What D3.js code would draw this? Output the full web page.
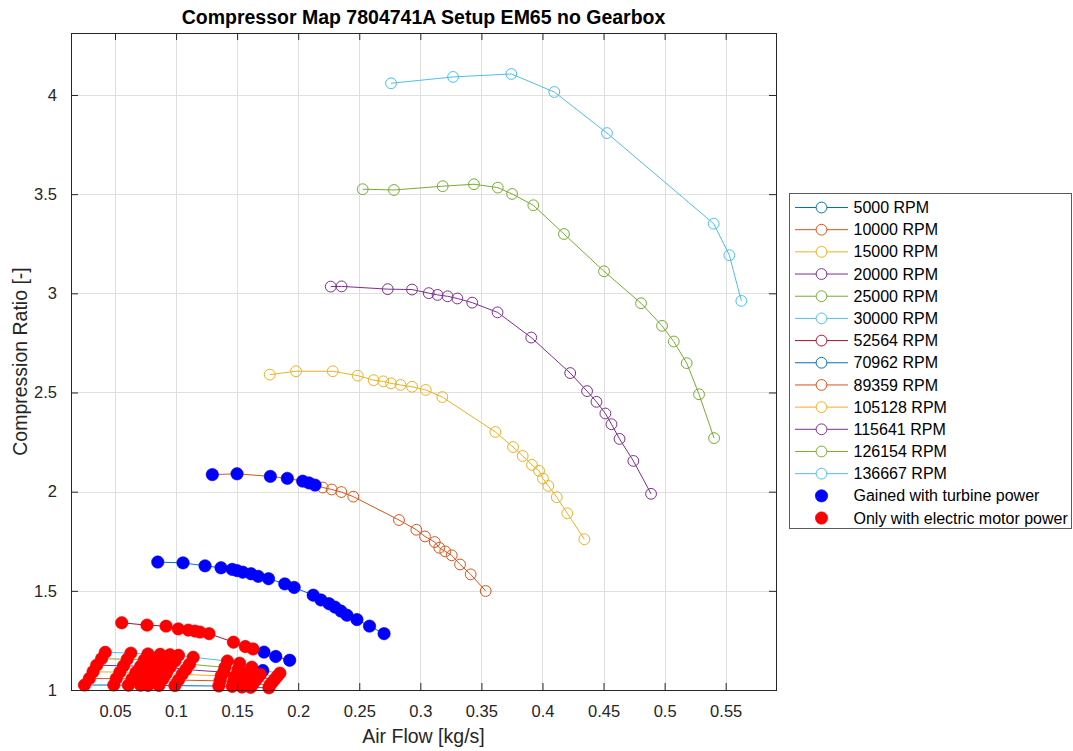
<!DOCTYPE html>
<html>
<head>
<meta charset="utf-8">
<script src="https://cdn.jsdelivr.net/npm/d3@7"></script>
<style>
  body { margin: 0; background: #ffffff; }
  svg { display: block; font-family: "Liberation Sans", Arial, Helvetica, sans-serif; }
</style>
</head>
<body>
<svg id="chart" width="1073" height="751"></svg>
<script>
// ---- speed lines (legend labels) ----
const rpmLabels = ["5000", "10000", "15000", "20000", "25000", "30000",
                   "52564", "70962", "89359", "105128", "115641", "126154", "136667"];

// ---- measured points per speed line: air flow [kg/s] and compression ratio [-] ----
const flow5000   = [0.025, 0.049, 0.061, 0.071, 0.077, 0.086, 0.099, 0.135, 0.146, 0.154, 0.161, 0.176];
const ratio5000  = [1.025, 1.025, 1.024, 1.024, 1.023, 1.023, 1.022, 1.020, 1.018, 1.015, 1.013, 1.011];
const flow10000  = [0.029, 0.051, 0.064, 0.074, 0.081, 0.089, 0.102, 0.136, 0.147, 0.155, 0.163, 0.177];
const ratio10000 = [1.058, 1.057, 1.056, 1.055, 1.054, 1.053, 1.050, 1.046, 1.042, 1.036, 1.031, 1.026];
const flow15000  = [0.032, 0.054, 0.067, 0.077, 0.084, 0.092, 0.105, 0.137, 0.148, 0.157, 0.165, 0.179];
const ratio15000 = [1.092, 1.090, 1.088, 1.087, 1.085, 1.083, 1.079, 1.071, 1.065, 1.056, 1.048, 1.040];
const flow20000  = [0.035, 0.057, 0.071, 0.080, 0.088, 0.095, 0.108, 0.139, 0.150, 0.159, 0.167, 0.181];
const ratio20000 = [1.125, 1.122, 1.120, 1.118, 1.116, 1.114, 1.103, 1.090, 1.084, 1.073, 1.063, 1.055];
const flow25000  = [0.039, 0.060, 0.074, 0.084, 0.091, 0.099, 0.111, 0.140, 0.151, 0.160, 0.169, 0.183];
const ratio25000 = [1.158, 1.155, 1.152, 1.150, 1.147, 1.145, 1.130, 1.114, 1.106, 1.092, 1.079, 1.070];
const flow30000  = [0.042, 0.063, 0.077, 0.087, 0.095, 0.102, 0.114, 0.142, 0.152, 0.162, 0.171, 0.185];
const ratio30000 = [1.190, 1.186, 1.182, 1.180, 1.178, 1.175, 1.165, 1.146, 1.135, 1.115, 1.098, 1.085];

const flow52564  = [0.0555, 0.0762, 0.0918, 0.1018, 0.110, 0.1155, 0.1196, 0.127, 0.147, 0.1567, 0.163, 0.172, 0.1816, 0.193];
const ratio52564 = [1.339, 1.327, 1.322, 1.308, 1.302, 1.297, 1.292, 1.284, 1.241, 1.219, 1.207, 1.191, 1.169, 1.150];

const flow70962  = [0.085, 0.1057, 0.1237, 0.1368, 0.146, 0.1499, 0.1546, 0.1614, 0.1673, 0.1757, 0.189,
                    0.1967, 0.2123, 0.2186, 0.2252, 0.2301, 0.235, 0.2399, 0.2481, 0.2584, 0.2703];
const ratio70962 = [1.645, 1.641, 1.626, 1.616, 1.608, 1.602, 1.594, 1.586, 1.573, 1.561, 1.535,
                    1.517, 1.478, 1.454, 1.435, 1.418, 1.398, 1.377, 1.355, 1.322, 1.284];

const flow89359  = [0.1297, 0.1499, 0.1772, 0.1911, 0.2037, 0.2088, 0.2138, 0.2201, 0.2274, 0.2353, 0.2451,
                    0.2825, 0.2967, 0.3038, 0.3118, 0.3155, 0.3204, 0.3257, 0.3325, 0.3412, 0.3535];
const ratio89359 = [2.086, 2.090, 2.077, 2.067, 2.053, 2.044, 2.033, 2.021, 2.011, 1.998, 1.975,
                    1.857, 1.808, 1.774, 1.746, 1.717, 1.699, 1.679, 1.633, 1.583, 1.499];

const flow105128  = [0.1767, 0.1982, 0.2283, 0.2487, 0.2618, 0.2697, 0.276, 0.2838, 0.2932, 0.3044, 0.318,
                     0.3614, 0.3759, 0.3838, 0.3914, 0.3972, 0.4004, 0.4048, 0.4117, 0.4203, 0.4343];
const ratio105128 = [2.590, 2.607, 2.607, 2.585, 2.562, 2.556, 2.546, 2.538, 2.529, 2.513, 2.477,
                     2.301, 2.225, 2.180, 2.135, 2.105, 2.066, 2.029, 1.972, 1.891, 1.760];

const flow115641  = [0.2266, 0.2355, 0.2733, 0.2932, 0.3069, 0.3141, 0.3223, 0.3303, 0.3425, 0.3632,
                     0.3908, 0.4227, 0.4365, 0.4442, 0.4515, 0.4565, 0.4631, 0.4744, 0.4889];
const ratio115641 = [3.034, 3.035, 3.021, 3.019, 3.001, 2.992, 2.985, 2.974, 2.953, 2.904,
                     2.777, 2.598, 2.507, 2.453, 2.394, 2.340, 2.266, 2.155, 1.989];

const flow126154  = [0.2528, 0.2784, 0.3183, 0.3439, 0.3634, 0.3751, 0.3925, 0.4176, 0.4504, 0.4807,
                     0.4979, 0.5075, 0.5181, 0.5282, 0.5405];
const ratio126154 = [3.525, 3.521, 3.540, 3.550, 3.533, 3.501, 3.444, 3.299, 3.111, 2.950,
                     2.836, 2.757, 2.648, 2.491, 2.270];

const flow136667  = [0.276, 0.3268, 0.3745, 0.4097, 0.4528, 0.5402, 0.553, 0.5628];
const ratio136667 = [4.059, 4.091, 4.106, 4.015, 3.808, 3.351, 3.192, 2.962];

// ---- how each point was reached: T = turbine power, E = electric motor only, - = not marked ----
const mode5000   = "EEEEEEEEEEEE";
const mode10000  = "EEEEEEEEEEEE";
const mode15000  = "EEEEEEEEEEEE";
const mode20000  = "EEEEEEEEEEEE";
const mode25000  = "EEEEEEEEEEEE";
const mode30000  = "EEEEEEEEEETE";
const mode52564  = "EEEEEEEEEEETTT";
const mode70962  = "TTTTTTTTTTTTTTTTTTTTT";
const mode89359  = "TTTTTTT--------------";
const mode105128 = "";
const mode115641 = "";
const mode126154 = "";
const mode136667 = "";

// ---- axes ----
const xTickValues = [0.05, 0.1, 0.15, 0.2, 0.25, 0.3, 0.35, 0.4, 0.45, 0.5, 0.55];
const yTickValues = [1, 1.5, 2, 2.5, 3, 3.5, 4];
const xDomain = [0.01397, 0.5912];
const yDomain = [1, 4.3125];

const lineColors = ["#0072BD", "#D95319", "#EDB120", "#7E2F8E", "#77AC30", "#4DBEEE", "#A2142F",
                    "#0072BD", "#D95319", "#EDB120", "#7E2F8E", "#77AC30", "#4DBEEE"];
const turbineColor = "#0000FF";
const electricColor = "#FF0000";

const flows  = [flow5000, flow10000, flow15000, flow20000, flow25000, flow30000, flow52564,
                flow70962, flow89359, flow105128, flow115641, flow126154, flow136667];
const ratios = [ratio5000, ratio10000, ratio15000, ratio20000, ratio25000, ratio30000, ratio52564,
                ratio70962, ratio89359, ratio105128, ratio115641, ratio126154, ratio136667];
const modes  = [mode5000, mode10000, mode15000, mode20000, mode25000, mode30000, mode52564,
                mode70962, mode89359, mode105128, mode115641, mode126154, mode136667];

const series = rpmLabels.map((rpm, i) => ({
  label: rpm + " RPM",
  color: lineColors[i],
  points: flows[i].map((f, j) => ({ flow: f, ratio: ratios[i][j], mode: modes[i][j] || "-" }))
}));

// ---- layout ----
const svg = d3.select("#chart");
const plot = { left: 71, right: 776, top: 33, bottom: 690 };
const axisColor = "#262626";
const gridColor = "#dfdfdf";

const x = d3.scaleLinear().domain(xDomain).range([plot.left, plot.right]);
const y = d3.scaleLinear().domain(yDomain).range([plot.bottom, plot.top]);

svg.append("rect").attr("width", 1073).attr("height", 751).attr("fill", "#ffffff");

// grid
const grid = svg.append("g");
grid.selectAll("line.gx").data(xTickValues).join("line")
  .attr("x1", d => Math.round(x(d)) + 0.5).attr("x2", d => Math.round(x(d)) + 0.5)
  .attr("y1", plot.top).attr("y2", plot.bottom)
  .attr("stroke", gridColor).attr("stroke-width", 1);
grid.selectAll("line.gy").data(yTickValues).join("line")
  .attr("y1", d => Math.round(y(d)) + 0.5).attr("y2", d => Math.round(y(d)) + 0.5)
  .attr("x1", plot.left).attr("x2", plot.right)
  .attr("stroke", gridColor).attr("stroke-width", 1);

// speed lines with open circle markers
const line = d3.line().x(d => x(d.flow)).y(d => y(d.ratio));
const curves = svg.append("g");
series.forEach(s => {
  const g = curves.append("g");
  g.append("path").datum(s.points).attr("d", line)
    .attr("fill", "none").attr("stroke", s.color).attr("stroke-width", 1);
  g.selectAll("circle").data(s.points).join("circle")
    .attr("cx", d => x(d.flow)).attr("cy", d => y(d.ratio)).attr("r", 5.4)
    .attr("fill", "none").attr("stroke", s.color).attr("stroke-width", 1);
});

// operating-mode markers: turbine first, electric on top
const allPoints = series.flatMap(s => s.points);
svg.append("g").selectAll("circle")
  .data(allPoints.filter(p => p.mode === "T")).join("circle")
  .attr("cx", d => x(d.flow)).attr("cy", d => y(d.ratio)).attr("r", 6.2)
  .attr("fill", turbineColor).attr("stroke", turbineColor).attr("stroke-width", 0.6);
svg.append("g").selectAll("circle")
  .data(allPoints.filter(p => p.mode === "E")).join("circle")
  .attr("cx", d => x(d.flow)).attr("cy", d => y(d.ratio)).attr("r", 6.2)
  .attr("fill", electricColor).attr("stroke", electricColor).attr("stroke-width", 0.6);

// axes (ticks point inward, box on all four sides)
const fmt = v => String(v);
const xAxis = svg.append("g").attr("transform", `translate(0,${plot.bottom})`)
  .call(d3.axisBottom(x).tickValues(xTickValues).tickFormat(fmt).tickSizeInner(-7).tickSizeOuter(0).tickPadding(15));
const yAxis = svg.append("g").attr("transform", `translate(${plot.left},0)`)
  .call(d3.axisLeft(y).tickValues(yTickValues).tickFormat(fmt).tickSizeInner(-7).tickSizeOuter(0).tickPadding(14));
const xTop = svg.append("g").attr("transform", `translate(0,${plot.top})`)
  .call(d3.axisTop(x).tickValues(xTickValues).tickFormat("").tickSizeInner(-7).tickSizeOuter(0));
const yRight = svg.append("g").attr("transform", `translate(${plot.right},0)`)
  .call(d3.axisRight(y).tickValues(yTickValues).tickFormat("").tickSizeInner(-7).tickSizeOuter(0));
[xAxis, yAxis, xTop, yRight].forEach(a => {
  a.select(".domain").remove();
  a.selectAll(".tick line").attr("stroke", axisColor).attr("stroke-width", 1);
  a.selectAll(".tick text").attr("fill", axisColor).style("font-size", "16.5px")
    .style("font-family", "'Liberation Sans', Arial, sans-serif");
});

svg.append("rect")
  .attr("x", plot.left + 0.5).attr("y", plot.top + 0.5)
  .attr("width", plot.right - plot.left).attr("height", plot.bottom - plot.top)
  .attr("fill", "none").attr("stroke", axisColor).attr("stroke-width", 1);

// title and axis labels
svg.append("text")
  .attr("x", (plot.left + plot.right) / 2).attr("y", 24)
  .attr("text-anchor", "middle").attr("fill", "#000000")
  .style("font-size", "19.5px").style("font-weight", "bold")
  .text("Compressor Map 7804741A Setup EM65 no Gearbox");
svg.append("text")
  .attr("x", (plot.left + plot.right) / 2).attr("y", 743)
  .attr("text-anchor", "middle").attr("fill", axisColor)
  .style("font-size", "19.5px")
  .text("Air Flow [kg/s]");
svg.append("text")
  .attr("transform", `translate(27,${(plot.top + plot.bottom) / 2}) rotate(-90)`)
  .attr("text-anchor", "middle").attr("fill", axisColor)
  .style("font-size", "19.5px")
  .text("Compression Ratio [-]");

// legend
const legendEntries = series.map(s => ({ label: s.label, color: s.color, kind: "line" }))
  .concat([
    { label: "Gained with turbine power", color: turbineColor, kind: "dot" },
    { label: "Only with electric motor power", color: electricColor, kind: "dot" }
  ]);
const legend = svg.append("g");
legend.append("rect")
  .attr("x", 789.5).attr("y", 193.5).attr("width", 282).attr("height", 335)
  .attr("fill", "#ffffff").attr("stroke", "#5a5a5a").attr("stroke-width", 1);
const rowStep = 22.18;
const rows = legend.selectAll("g.row").data(legendEntries).join("g")
  .attr("transform", (d, i) => `translate(0,${207.5 + i * rowStep})`);
rows.filter(d => d.kind === "line").append("line")
  .attr("x1", 795).attr("x2", 848).attr("y1", 0).attr("y2", 0)
  .attr("stroke", d => d.color).attr("stroke-width", 1);
rows.filter(d => d.kind === "line").append("circle")
  .attr("cx", 821.5).attr("cy", 0).attr("r", 5.4)
  .attr("fill", "#ffffff").attr("stroke", d => d.color).attr("stroke-width", 1);
rows.filter(d => d.kind === "dot").append("circle")
  .attr("cx", 821.5).attr("cy", 0).attr("r", 6.2)
  .attr("fill", d => d.color).attr("stroke", d => d.color).attr("stroke-width", 0.6);
rows.append("text")
  .attr("x", 853.5).attr("y", 0).attr("dy", "0.35em")
  .attr("fill", "#000000").style("font-size", "16px")
  .text(d => d.label);
</script>
</body>
</html>
